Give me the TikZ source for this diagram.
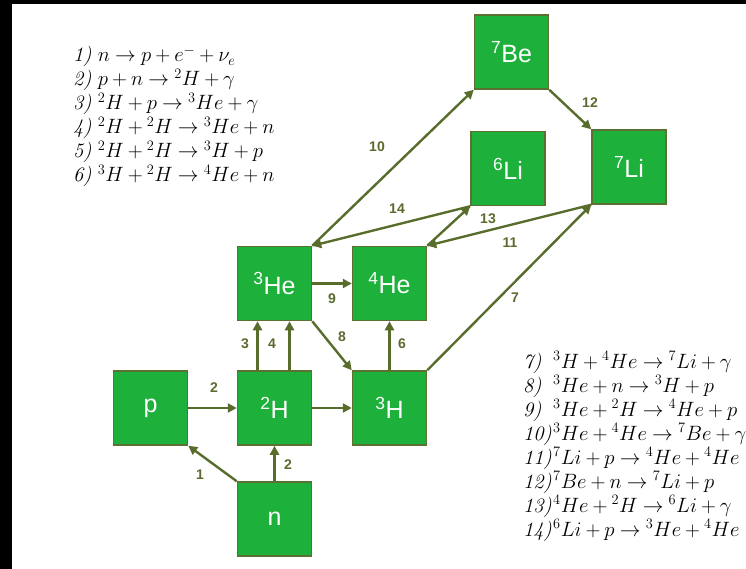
\documentclass[tikz,border=0pt]{standalone}
\usepackage{fontspec}
\newfontfamily\sansf{Liberation Sans}
\usetikzlibrary{arrows.meta}
\definecolor{boxg}{HTML}{1DB03A}
\definecolor{boxc}{HTML}{5B7031}
\definecolor{arrc}{HTML}{586D2C}
\definecolor{lblc}{HTML}{5B6B2E}
\tikzset{
  nuc/.style={draw=boxc, fill=boxg, line width=1.5pt, minimum size=74pt, inner sep=0pt,
    text=white, font=\sansf\fontsize{25}{25}\selectfont},
  arr/.style={draw=arrc, line width=2.4pt, -{Triangle[length=9pt,width=9pt]}},
  lbl/.style={text=lblc, font=\sansf\bfseries\fontsize{14}{14}\selectfont, inner sep=0pt},
  eq/.style={anchor=base west, inner sep=0pt, font=\fontsize{20.5}{24}\selectfont}
}
\thickmuskip=4.5mu plus 2mu
\medmuskip=3.5mu plus 1mu
\newcommand{\iso}[2]{\textsuperscript{#1}#2}
\newcommand{\nm}[1]{\makebox[30pt][l]{\textit{#1}}}
\begin{document}
\begin{tikzpicture}[x=1pt,y=-1pt]
\useasboundingbox (0,0) rectangle (746,569);
\fill[white] (0,0) rectangle (746,569);
\fill[black] (0,0) rectangle (746,4);
\fill[black] (0,0) rectangle (12,569);

% nuclide boxes
\node[nuc] (be7) at (511.5,52) {\iso{7}{Be}};
\node[nuc] (li6) at (508,168.5) {\iso{6}{Li}};
\node[nuc] (li7) at (629,167) {\iso{7}{Li}};
\node[nuc] (he3) at (274.5,283.5) {\iso{3}{He}};
\node[nuc] (he4) at (389.5,283.5) {\iso{4}{He}};
\node[nuc] (p)   at (150.5,408) {p};
\node[nuc] (h2)  at (274.5,408) {\iso{2}{H}};
\node[nuc] (h3)  at (389.5,408) {\iso{3}{H}};
\node[nuc] (n)   at (274.5,519) {n};

% connectors
\draw[arr] (n.north west) -- (p.south east);
\draw[arr] (p.east) -- (h2.west);
\draw[arr] (n.north) -- (h2.south);
\draw[arr] ([xshift=-17pt]h2.north) -- ([xshift=-17pt]he3.south);
\draw[arr] ([xshift=15pt]h2.north) -- ([xshift=15pt]he3.south);
\draw[arr] (h2.east) -- (h3.west);
\draw[arr] (he3.east) -- (he4.west);
\draw[arr] (he3.south east) -- (h3.north west);
\draw[arr] (h3.north) -- (he4.south);
\draw[arr] (h3.north east) -- (li7.south west);
\draw[arr] (he3.north east) -- (be7.south west);
\draw[arr] (be7.south east) -- (li7.north west);
\draw[arr] (li6.south west) -- (he3.north east);
\draw[arr] (he4.north east) -- (li6.south west);
\draw[arr] (li7.south west) -- (he4.north east);

% connector labels
\node[lbl] (l1)  at (200,475) {1};
\node[lbl] (l2a) at (288,465) {2};
\node[lbl] (l2b) at (214,388) {2};
\node[lbl] (l3)  at (245,344) {3};
\node[lbl] (l4)  at (272,344) {4};
\node[lbl] (l9)  at (332,299) {9};
\node[lbl] (l8)  at (342,337) {8};
\node[lbl] (l6)  at (402,344) {6};
\node[lbl] (l7)  at (515,298) {7};
\node[lbl] (l10) at (377,147) {10};
\node[lbl] (l12) at (590,103) {12};
\node[lbl] (l14) at (397,209) {14};
\node[lbl] (l13) at (488,219) {13};
\node[lbl] (l11) at (510,243) {11};

% reactions, left
\node[eq] (e1) at (73,62)  {\textit{1)} $n \to p + e^- + \nu_e$};
\node[eq] (e2) at (73,86)  {\textit{2)} $p + n \to {}^2H + \gamma$};
\node[eq] (e3) at (73,110) {\textit{3)} ${}^2H + p \to {}^3He + \gamma$};
\node[eq] (e4) at (73,134) {\textit{4)} ${}^2H + {}^2H \to {}^3He + n$};
\node[eq] (e5) at (73,158) {\textit{5)} ${}^2H + {}^2H \to {}^3H + p$};
\node[eq] (e6) at (73,182) {\textit{6)} ${}^3H + {}^2H \to {}^4He + n$};

% reactions, right
\node[eq] (e7)  at (523,368) {\nm{7)}${}^3H + {}^4He \to {}^7Li + \gamma$};
\node[eq] (e8)  at (523,392) {\nm{8)}${}^3He + n \to {}^3H + p$};
\node[eq] (e9)  at (523,416) {\nm{9)}${}^3He + {}^2H \to {}^4He + p$};
\node[eq] (e10) at (523,440) {\nm{10)}${}^3He + {}^4He \to {}^7Be + \gamma$};
\node[eq] (e11) at (523,464) {\nm{11)}${}^7Li + p \to {}^4He + {}^4He$};
\node[eq] (e12) at (523,488) {\nm{12)}${}^7Be + n \to {}^7Li + p$};
\node[eq] (e13) at (523,512) {\nm{13)}${}^4He + {}^2H \to {}^6Li + \gamma$};
\node[eq] (e14) at (523,536) {\nm{14)}${}^6Li + p \to {}^3He + {}^4He$};
\end{tikzpicture}
\end{document}
